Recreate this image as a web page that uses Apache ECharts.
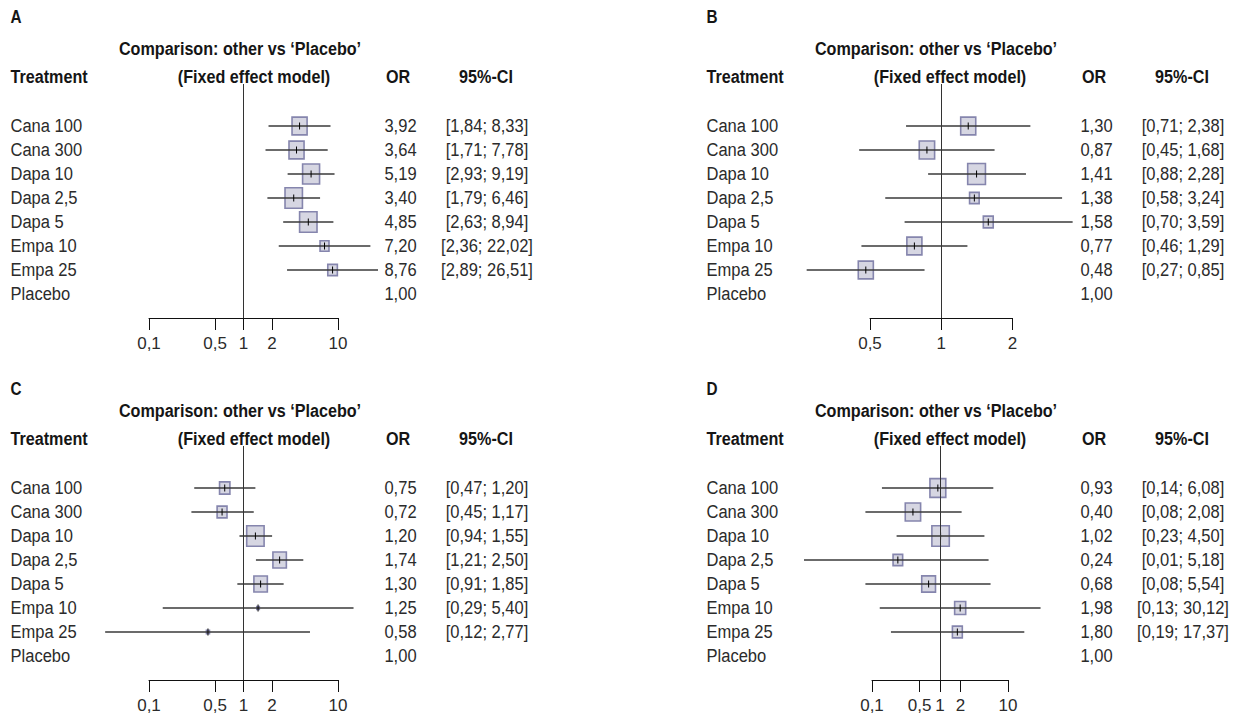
<!DOCTYPE html>
<html>
<head>
<meta charset="utf-8">
<script src="https://cdn.jsdelivr.net/npm/echarts@6/dist/echarts.min.js"></script>
<style>
html,body{margin:0;padding:0;background:#ffffff;}
#chart{width:1242px;height:718px;}
</style>
</head>
<body>
<div id="chart"></div>
<script>
// ---------------- data ----------------
const treatments = ['Cana 100', 'Cana 300', 'Dapa 10', 'Dapa 2,5', 'Dapa 5', 'Empa 10', 'Empa 25', 'Placebo'];

const tickLabelsWide = [0.1, 0.5, 1, 2, 10];
const tickLabelsNarrow = [0.5, 1, 2];

// Panel A
const orA = [3.92, 3.64, 5.19, 3.40, 4.85, 7.20, 8.76, 1.00];
const loA = [1.84, 1.71, 2.93, 1.79, 2.63, 2.36, 2.89, null];
const hiA = [8.33, 7.78, 9.19, 6.46, 8.94, 22.02, 26.51, null];
const weightA = [74, 74, 94, 99, 99, 26, 30, null];

// Panel B
const orB = [1.30, 0.87, 1.41, 1.38, 1.58, 0.77, 0.48, 1.00];
const loB = [0.71, 0.45, 0.88, 0.58, 0.70, 0.46, 0.27, null];
const hiB = [2.38, 1.68, 2.28, 3.24, 3.59, 1.29, 0.85, null];
const weightB = [74, 77, 103, 30, 32, 74, 74, null];

// Panel C
const orC = [0.75, 0.72, 1.20, 1.74, 1.30, 1.25, 0.58, 1.00];
const loC = [0.47, 0.45, 0.94, 1.21, 0.91, 0.29, 0.12, null];
const hiC = [1.20, 1.17, 1.55, 2.50, 1.85, 5.40, 2.77, null];
const weightC = [35, 32, 99, 59, 59, 2, 3, null];

// Panel D
const orD = [0.93, 0.40, 1.02, 0.24, 0.68, 1.98, 1.80, 1.00];
const loD = [0.14, 0.08, 0.23, 0.01, 0.08, 0.13, 0.19, null];
const hiD = [6.08, 2.08, 4.50, 5.18, 5.54, 30.12, 17.37, null];
const weightD = [82, 77, 99, 30, 62, 40, 32, null];

// ---------------- layout ----------------
// In the reference, panel C's tick labels sit where panel A's do while its marks
// follow a wider scale; this exponent reproduces that placement of the ticks.
const C_TICK_EXP = 0.629;

const FONT = "'Liberation Sans', Arial, Helvetica, sans-serif";
const TEXT_COLOR = '#2b2b2b';
const HEAD_COLOR = '#151515';
const REG_SCALE = 0.87;   // condensed look
const BOLD_SCALE = 0.85;
const MAX_SIDE = 17.5;

const panels = [
  { letter: 'A', dx: 0,   dy: 0,   or: orA, lo: loA, hi: hiA, w: weightA,
    gridLeft: 149, gridWidth: 189, min: 0.1, max: 10, ticks: tickLabelsWide, exp: 1 },
  { letter: 'B', dx: 696, dy: 0,   or: orB, lo: loB, hi: hiB, w: weightB,
    gridLeft: 870, gridWidth: 142.5, min: 0.5, max: 2, ticks: tickLabelsNarrow, exp: 1 },
  { letter: 'C', dx: 0,   dy: 362, or: orC, lo: loC, hi: hiC, w: weightC,
    gridLeft: 149, gridWidth: 189, min: Math.pow(0.1, C_TICK_EXP), max: Math.pow(10, C_TICK_EXP), ticks: tickLabelsWide, exp: C_TICK_EXP },
  { letter: 'D', dx: 696, dy: 362, or: orD, lo: loD, hi: hiD, w: weightD,
    gridLeft: 872, gridWidth: 136, min: 0.1, max: 10, ticks: tickLabelsWide, exp: 1 }
];

const ROW0 = 126;      // y of first row (top panels)
const ROW_H = 24;
const GRID_TOP = 84;
const Y_MIN = (GRID_TOP - ROW0) / ROW_H;  // -1.75
const Y_MAX = 8;

const fmt = v => v.toFixed(2).replace('.', ',');
const fmtTick = v => String(Number(v.toPrecision(3))).replace('.', ',');

const grids = [], xAxes = [], yAxes = [], series = [], graphics = [];

function regText(text, x, y, align) {
  return {
    type: 'text', x: x, y: y, scaleX: REG_SCALE,
    style: { text: text, x: 0, y: 0, align: align, verticalAlign: 'middle',
             fontFamily: FONT, fontSize: 19, fill: TEXT_COLOR }
  };
}
function boldText(text, x, y, align, size) {
  return {
    type: 'text', x: x, y: y, scaleX: BOLD_SCALE,
    style: { text: text, x: 0, y: 0, align: align, verticalAlign: 'middle',
             fontFamily: FONT, fontSize: size || 19, fontWeight: 'bold', fill: HEAD_COLOR }
  };
}

panels.forEach((p, pi) => {
  grids.push({
    left: p.gridLeft, width: p.gridWidth,
    top: GRID_TOP + p.dy, height: (Y_MAX - Y_MIN) * ROW_H,
    containLabel: false
  });
  const tickVals = p.ticks.map(t => Math.pow(t, p.exp));
  xAxes.push({
    type: 'log', logBase: 10, gridIndex: pi,
    min: p.min * (1 - 1e-7), max: p.max * (1 + 1e-7),
    axisLine: { show: true, onZero: false, lineStyle: { color: '#111', width: 1 } },
    axisTick: { show: true, length: 12, customValues: tickVals, lineStyle: { color: '#111', width: 1 } },
    axisLabel: {
      show: true, customValues: tickVals, margin: 17,
      fontFamily: FONT, fontSize: 17, color: TEXT_COLOR,
      formatter: v => fmtTick(Math.pow(v, 1 / p.exp))
    },
    splitLine: { show: false },
    minorTick: { show: false }
  });
  yAxes.push({
    type: 'value', gridIndex: pi, inverse: true, min: Y_MIN, max: Y_MAX, show: false
  });

  const nameX = 10.5 + p.dx, orX = 400.5 + p.dx, ciX = 487 + p.dx;

  series.push({
    type: 'custom',
    xAxisIndex: pi, yAxisIndex: pi,
    clip: false,
    silent: true,
    encode: { x: 0, y: 1 },
    data: treatments.map((t, i) => [p.or[i], i]),
    renderItem: function (params, api) {
      const i = params.dataIndex;
      const c = api.coord([p.or[i], i]);
      const y = c[1];
      const children = [];
      if (p.lo[i] != null) {
        const a = api.coord([p.lo[i], i]);
        const b = api.coord([p.hi[i], i]);
        const side = MAX_SIDE * Math.sqrt(p.w[i] / 100);
        const h = side * 1.18;
        children.push({
          type: 'rect',
          shape: { x: c[0] - side / 2, y: y - h / 2, width: side, height: h },
          style: { fill: '#d6d6e2', stroke: '#8585ad', lineWidth: 1.6 }
        });
        children.push({
          type: 'line',
          shape: { x1: a[0], y1: y, x2: b[0], y2: y },
          style: { stroke: '#3a3a3a', lineWidth: 1.3 }
        });
        children.push({
          type: 'line',
          shape: { x1: c[0], y1: y - 3.5, x2: c[0], y2: y + 3.5 },
          style: { stroke: '#000', lineWidth: 1 }
        });
        children.push(regText('[' + fmt(p.lo[i]) + '; ' + fmt(p.hi[i]) + ']', ciX, y, 'center'));
      }
      children.push(regText(treatments[i], nameX, y, 'left'));
      children.push(regText(fmt(p.or[i]), orX, y, 'center'));
      return { type: 'group', children: children };
    },
    markLine: {
      silent: true,
      symbol: ['none', 'none'],
      label: { show: false },
      lineStyle: { color: '#333', type: 'solid', width: 1 },
      emphasis: { disabled: true },
      data: [{ xAxis: 1 }]
    }
  });

  const letterY = pi >= 2 ? 389 : 17;
  graphics.push(
    boldText(p.letter, 10.5 + p.dx, letterY, 'left', 18),
    boldText('Comparison: other vs \u2018Placebo\u2019', 240 + p.dx, 48.5 + p.dy, 'center'),
    boldText('Treatment', 10.5 + p.dx, 77 + p.dy, 'left'),
    boldText('(Fixed effect model)', 254 + p.dx, 77 + p.dy, 'center'),
    boldText('OR', 398 + p.dx, 77 + p.dy, 'center'),
    boldText('95%-CI', 486 + p.dx, 77 + p.dy, 'center')
  );
});

const chart = echarts.init(document.getElementById('chart'), null, { renderer: 'svg' });
chart.setOption({
  animation: false,
  backgroundColor: '#ffffff',
  grid: grids,
  xAxis: xAxes,
  yAxis: yAxes,
  series: series,
  graphic: graphics
});
</script>
</body>
</html>
